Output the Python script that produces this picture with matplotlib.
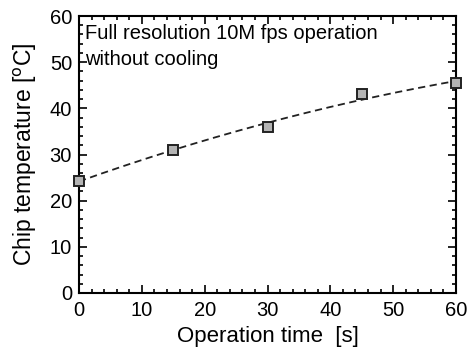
import numpy as np
import matplotlib
matplotlib.use('Agg')
import matplotlib.pyplot as plt
from matplotlib.ticker import MultipleLocator

plt.rcParams['font.family'] = ['Liberation Sans', 'DejaVu Sans']

time_s = [0, 15, 30, 45, 60]
temp_c = [24.3, 31.0, 36.0, 43.0, 45.5]

# quadratic trend through the measured points
coef = np.polyfit(time_s, temp_c, 2)
t_fit = np.linspace(0, 60, 200)
y_fit = np.polyval(coef, t_fit)

fig = plt.figure(figsize=(4.7, 3.54), dpi=100)
ax = fig.add_axes([79 / 470, 1 - 293 / 354, (456 - 79) / 470, (293 - 16) / 354])

ax.plot(t_fit, y_fit, '--', color='#222222', lw=1.3, dashes=(4, 2.5))
ax.plot(time_s, temp_c, 's', ms=7.5, mfc='#b4b4b4', mec='#222222', mew=1.4, clip_on=False, zorder=3)

ax.set_xlim(0, 60)
ax.set_ylim(0, 60)
ax.xaxis.set_major_locator(MultipleLocator(10))
ax.xaxis.set_minor_locator(MultipleLocator(2))
ax.yaxis.set_major_locator(MultipleLocator(10))
ax.yaxis.set_minor_locator(MultipleLocator(2))
ax.tick_params(which='both', direction='in', top=True, right=True, labelsize=14.5, width=1.2)
ax.tick_params(axis='x', pad=6)
ax.tick_params(axis='y', pad=5)
ax.tick_params(which='major', length=6)
ax.tick_params(which='minor', length=3)
for s in ax.spines.values():
    s.set_linewidth(1.5)

ax.set_xlabel('Operation time  [s]', fontsize=16, labelpad=4)
ax.set_ylabel('Chip temperature [$^{\\mathrm{o}}$C]', fontsize=16.5, labelpad=8)

ax.text(0.017, 0.97, 'Full resolution 10M fps operation\nwithout cooling', transform=ax.transAxes,
        fontsize=14.5, va='top', ha='left', linespacing=1.45)

fig.savefig('out.png', dpi=100)
